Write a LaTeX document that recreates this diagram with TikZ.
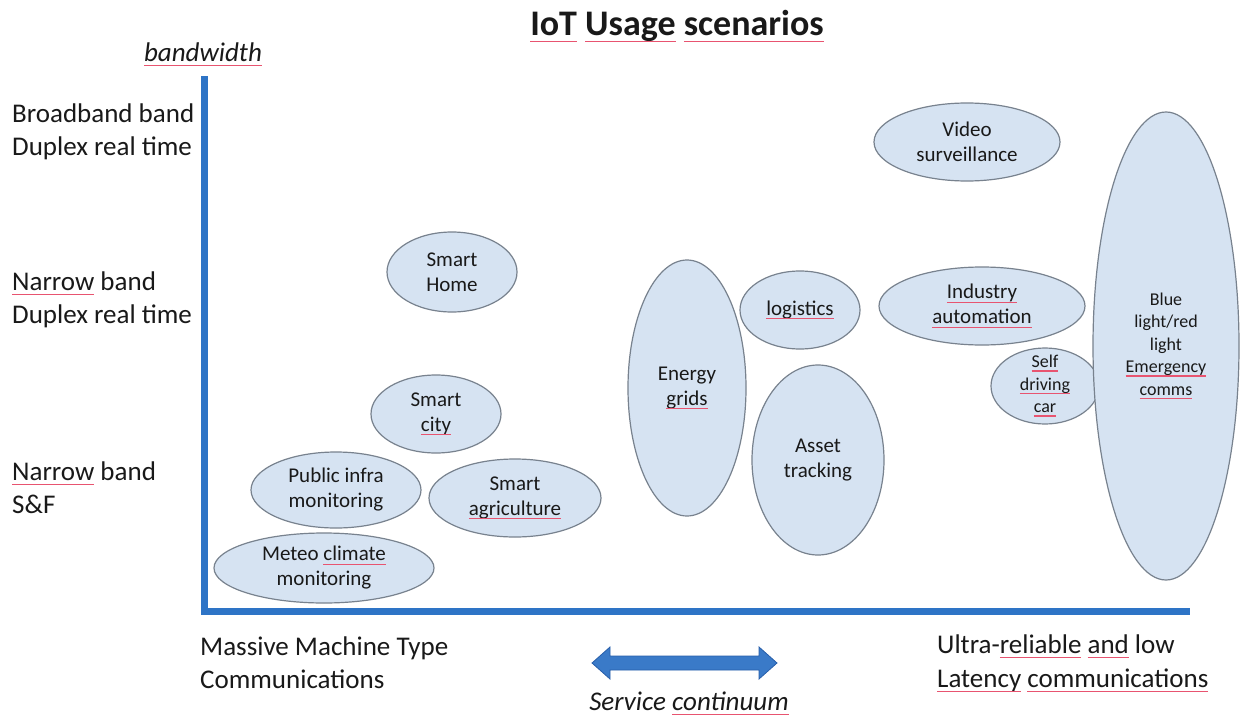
\documentclass[tikz,border=0pt]{standalone}
\usepackage{fontspec}
\setmainfont{Carlito}
\usetikzlibrary{shapes.geometric}
\definecolor{axisblue}{RGB}{46,116,198}
\definecolor{ellfill}{RGB}{214,227,242}
\definecolor{elldraw}{RGB}{120,130,142}
\definecolor{arrowblue}{RGB}{58,122,200}
\definecolor{arrowedge}{RGB}{40,95,170}
\definecolor{squig}{RGB}{232,84,112}
\definecolor{txt}{RGB}{25,25,25}
\newsavebox{\sqwbox}
\newcommand{\sqw}[1]{\sbox{\sqwbox}{#1}\usebox{\sqwbox}\llap{\textcolor{squig}{\rule[-0.2em]{\wd\sqwbox}{1.3pt}}}}
\tikzset{
  blob/.style={ellipse, draw=elldraw, fill=ellfill, line width=1.2pt, inner sep=0pt, outer sep=0pt},
  blobtxt/.style={inner sep=0pt, align=center, text=txt, font=\fontsize{21}{25}\selectfont},
  smalltxt/.style={inner sep=0pt, align=center, text=txt, font=\fontsize{18}{22.5}\selectfont},
  axislbl/.style={inner sep=0pt, anchor=base west, text=txt, font=\fontsize{27}{33}\selectfont},
  axisline/.style={draw=axisblue, line width=7pt, line join=miter},
}
\begin{document}
\begin{tikzpicture}[x=1pt,y=-1pt]
\useasboundingbox[fill=white] (0,0) rectangle (1242,720);

% title
\node[inner sep=0pt, anchor=base, text=txt, font=\fontsize{36}{40}\selectfont\bfseries] (title) at (677,35)
  {\sqw{IoT} \sqw{Usage} \sqw{scenarios}};

% axes
\coordinate (ytop) at (204,76);
\coordinate (origin) at (204,611);
\coordinate (xend) at (1190,611);
\draw[axisline] (ytop) -- (origin) -- (xend);

\node[inner sep=0pt, anchor=base, text=txt, font=\fontsize{27}{33}\selectfont\itshape] (bw) at (203,61) {\sqw{bandwidth}};

% left labels
\node[axislbl] (l1a) at (12,122) {Broadband band};
\node[axislbl] (l1b) at (12,155) {Duplex real time};
\node[axislbl] (l2a) at (12,290) {\sqw{Narrow} band};
\node[axislbl] (l2b) at (12,323) {Duplex real time};
\node[axislbl] (l3a) at (12,480) {\sqw{Narrow} band};
\node[axislbl] (l3b) at (12,513) {S\&F};

% bottom labels
\node[axislbl] (b1a) at (200,655) {Massive Machine Type};
\node[axislbl] (b1b) at (200,688) {Communications};
\node[axislbl] (b2a) at (937,653) {Ultra-\sqw{reliable} \sqw{and} low};
\node[axislbl] (b2b) at (937,687) {\sqw{Latency} \sqw{communications}};

% service continuum arrow
\fill[arrowblue, draw=arrowedge, line width=0.8pt]
  (592,663) -- (610,647) -- (610,656) -- (759,656) -- (759,647) -- (777,663)
  -- (759,679) -- (759,670) -- (610,670) -- (610,679) -- cycle;
\node[inner sep=0pt, anchor=base, text=txt, font=\fontsize{27}{33}\selectfont\itshape] (sc) at (689,710) {Service \sqw{continuum}};

% ellipses
\node[blob, minimum width=186pt, minimum height=78pt, label={[blobtxt]center:{Video\\surveillance}}] (video) at (967,142) {};
\node[blob, minimum width=130pt, minimum height=80pt, label={[blobtxt]center:{Smart\\Home}}] (home) at (452,272) {};
\node[blob, minimum width=118pt, minimum height=256pt, label={[blobtxt]center:{Energy\\\sqw{grids}}}] (energy) at (687,388) {};
\node[blob, minimum width=120pt, minimum height=78pt, label={[blobtxt]center:{\sqw{logistics}}}] (logistics) at (800,310) {};
\node[blob, minimum width=206pt, minimum height=78pt, label={[blobtxt]center:{\sqw{Industry}\\\sqw{automation}}}] (industry) at (982,306) {};
\node[blob, minimum width=108pt, minimum height=76pt, label={[smalltxt]center:{\sqw{Self}\\\sqw{driving}\\\sqw{car}}}] (selfdrive) at (1045,386) {};
\node[blob, minimum width=146pt, minimum height=468pt, label={[smalltxt]center:{Blue\\light/red\\light\\\sqw{Emergency}\\\sqw{comms}}}] (bluelight) at (1166,346) {};
\node[blob, minimum width=132pt, minimum height=190pt, label={[blobtxt]center:{Asset\\tracking}}] (asset) at (818,460) {};
\node[blob, minimum width=130pt, minimum height=78pt, label={[blobtxt]center:{Smart\\\sqw{city}}}] (city) at (436,414) {};
\node[blob, minimum width=170pt, minimum height=76pt, label={[blobtxt]center:{Public infra\\monitoring}}] (infra) at (336,490) {};
\node[blob, minimum width=172pt, minimum height=78pt, label={[blobtxt]center:{Smart\\\sqw{agriculture}}}] (agri) at (515,498) {};
\node[blob, minimum width=220pt, minimum height=70pt, label={[blobtxt]center:{Meteo \sqw{climate}\\monitoring}}] (meteo) at (324,568) {};
\end{tikzpicture}
\end{document}
